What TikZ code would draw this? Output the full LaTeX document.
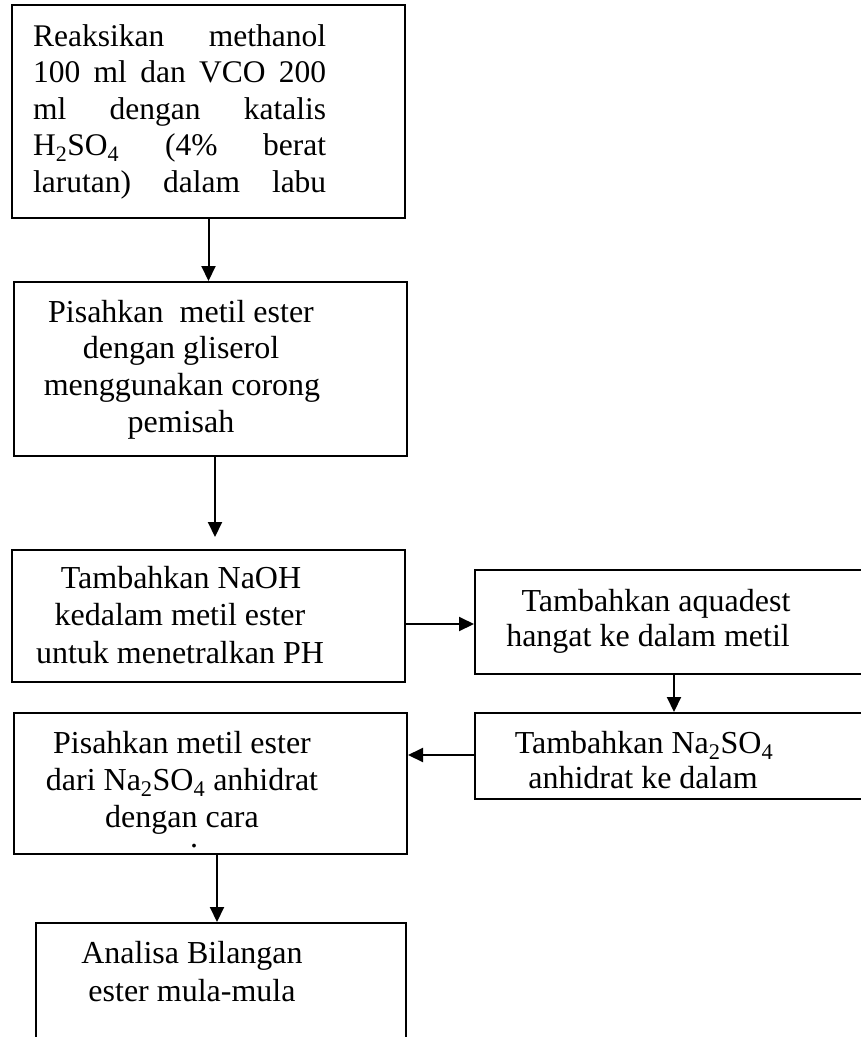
\documentclass[tikz,border=0pt]{standalone}
\usepackage{fontspec}
\setmainfont{Liberation Serif}
\usetikzlibrary{arrows.meta}
\newcommand{\sub}[1]{\textsubscript{#1}}
\begin{document}
\begin{tikzpicture}[x=1pt,y=-1pt,
  box/.style={draw, line width=2pt, inner sep=0pt, anchor=center},
  txt/.style={inner sep=0pt, anchor=base, font=\fontsize{32}{37}\selectfont},
  jtxt/.style={inner sep=0pt, anchor=base west, font=\fontsize{31.5}{37}\selectfont},
  arr/.style={line width=2pt, -{Triangle[length=15pt,width=14pt]}}]
\useasboundingbox (0,0) rectangle (861,1037);
\clip (0,0) rectangle (861,1037);
% boxes
\node[box, minimum width=393pt, minimum height=213pt] (b1) at (208.5,111.5) {};
\node[box, minimum width=393pt, minimum height=174pt] (b2) at (210.5,369) {};
\node[box, minimum width=393pt, minimum height=132pt] (b3) at (208.5,616) {};
\node[box, minimum width=392pt, minimum height=104pt] (b4) at (671,622) {};
\node[box, minimum width=392pt, minimum height=86pt] (b5) at (671,756) {};
\node[box, minimum width=393pt, minimum height=141pt] (b6) at (210.5,783.5) {};
\node[box, minimum width=370pt, minimum height=122pt] (b7) at (221,984) {};
% box 1 text (justified)
\node[jtxt] (t11) at (33,46) {\hbox to 293pt{Reaksikan\hfill methanol}};
\node[jtxt] (t12) at (33,82.5) {\hbox to 293pt{100\hfill ml\hfill dan\hfill VCO\hfill 200}};
\node[jtxt] (t13) at (33,119) {\hbox to 293pt{ml\hfill dengan\hfill katalis}};
\node[jtxt] (t14) at (33,155.5) {\hbox to 293pt{H\sub{2}SO\sub{4}\hfill (4\%\hfill berat}};
\node[jtxt] (t15) at (33,192) {\hbox to 293pt{larutan)\hfill dalam\hfill labu}};
% box 2 text
\node[txt] (t21) at (181,322) {Pisahkan\ \ metil ester};
\node[txt] (t22) at (181,358.5) {dengan gliserol};
\node[txt] (t23) at (182,395.5) {menggunakan corong};
\node[txt] (t24) at (181,432) {pemisah};
% box 3 text
\node[txt] (t31) at (181,588) {Tambahkan NaOH};
\node[txt] (t32) at (180,625.5) {kedalam metil ester};
\node[txt] (t33) at (180,663) {untuk menetralkan PH};
% box 4 text
\node[txt] (t41) at (656,611) {Tambahkan aquadest};
\node[txt] (t42) at (648,646) {hangat ke dalam metil};
% box 5 text
\node[txt] (t51) at (644,753) {Tambahkan Na\sub{2}SO\sub{4}};
\node[txt] (t52) at (643,788) {anhidrat ke dalam};
% box 6 text
\node[txt] (t61) at (182,753) {Pisahkan metil ester};
\node[txt] (t62) at (182,790) {dari Na\sub{2}SO\sub{4} anhidrat};
\node[txt] (t63) at (182,827) {dengan cara};
\node[txt] (t64) at (194,847) {.};
% box 7 text
\node[txt] (t71) at (192,963) {Analisa Bilangan};
\node[txt] (t72) at (192,1001) {ester mula-mula};
% arrow helper coordinates
\coordinate (a2x) at (215,537);
\coordinate (a3y) at (0,624);
\coordinate (a4x) at (674,0);
\coordinate (a5y) at (0,755);
\coordinate (a6x) at (217,0);
% arrows
\draw[arr] (b1.south) -- (b2.north -| b1.south);
\draw[arr] (b2.south -| a2x) -- (a2x);
\draw[arr] (b3.east |- a3y) -- (b4.west |- a3y);
\draw[arr] (b4.south -| a4x) -- (b5.north -| a4x);
\draw[arr] (b5.west |- a5y) -- (b6.east |- a5y);
\draw[arr] (b6.south -| a6x) -- (b7.north -| a6x);
\end{tikzpicture}
\end{document}
